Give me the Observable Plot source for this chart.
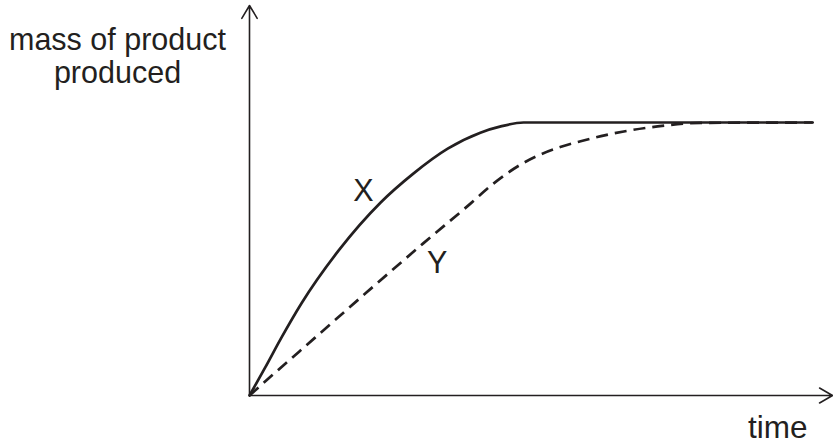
<!DOCTYPE html>
<html>
<head>
<meta charset="utf-8">
<script src="https://cdn.jsdelivr.net/npm/d3@7"></script>
<script src="https://cdn.jsdelivr.net/npm/@observablehq/plot@0.6"></script>
<style>
  html, body { margin: 0; padding: 0; background: #ffffff; }
  #chart svg { display: block; }
</style>
</head>
<body>
<div id="chart"></div>
<script>
// Curve X (solid): time and mass values
const timeX = [0, 0.27, 0.55, 0.89, 1.53, 2.25, 2.81, 3.40, 3.96, 4.31, 4.70, 9.66];
const massX = [0, 0.72, 1.49, 2.36, 3.72, 4.95, 5.69, 6.33, 6.74, 6.90, 7.0, 7.0];

// Curve Y (dashed)
const timeY = [0, 0.33, 1.13, 1.99, 2.98, 3.79, 4.19, 4.65, 4.99, 5.33, 5.68, 6.03, 6.42, 7.00, 7.74, 9.66];
const massY = [0, 0.44, 1.49, 2.62, 3.90, 4.92, 5.44, 5.92, 6.18, 6.37, 6.52, 6.65, 6.77, 6.90, 6.99, 7.0];

// Curve labels
const curveLabels = ["X", "Y"];
const labelTime = [1.955, 3.22];
const labelMass = [5.0, 3.13];

// Axis titles
const yTitle = "mass of product\nproduced";
const xTitle = "time";

const ink = "#231f20";

const lineX = timeX.map((t, i) => ({ t, m: massX[i] }));
const lineY = timeY.map((t, i) => ({ t, m: massY[i] }));
const labels = curveLabels.map((s, i) => ({ s, t: labelTime[i], m: labelMass[i] }));

const chart = Plot.plot({
  width: 833,
  height: 447,
  marginLeft: 249,
  marginRight: 1,
  marginTop: 5,
  marginBottom: 52,
  x: { domain: [0, 10], axis: null },
  y: { domain: [0, 10], axis: null },
  style: {
    fontFamily: "'Liberation Sans', Arial, Helvetica, sans-serif",
    fontSize: "30px",
    background: "#ffffff",
    color: ink
  },
  marks: [
    // axes as arrows
    Plot.arrow([{ x1: 0, y1: 0, x2: 0, y2: 10 }], {
      x1: "x1", y1: "y1", x2: "x2", y2: "y2",
      stroke: ink, strokeWidth: 1.6, headLength: 14, headAngle: 62, inset: 0
    }),
    Plot.arrow([{ x1: 0, y1: 0, x2: 10, y2: 0 }], {
      x1: "x1", y1: "y1", x2: "x2", y2: "y2",
      stroke: ink, strokeWidth: 1.6, headLength: 14, headAngle: 60, inset: 0
    }),
    // dashed curve Y
    Plot.line(lineY, {
      x: "t", y: "m", curve: "monotone-x",
      stroke: ink, strokeWidth: 2.7, strokeDasharray: "12,7", strokeLinecap: "butt"
    }),
    // solid curve X
    Plot.line(lineX, {
      x: "t", y: "m", curve: "monotone-x",
      stroke: ink, strokeWidth: 2.7
    }),
    // curve labels
    Plot.text(labels, {
      x: "t", y: "m", text: "s",
      fill: ink, fontSize: 30.5, textAnchor: "middle", lineAnchor: "bottom"
    }),
    // y axis title
    Plot.text([yTitle], {
      frameAnchor: "top-left", dx: -132, dy: 77,
      fill: ink, fontSize: 30.5, textAnchor: "middle", lineAnchor: "bottom", lineHeight: 1.06
    }),
    // x axis title
    Plot.text([xTitle], {
      frameAnchor: "bottom-right", dx: -25, dy: 42,
      fill: ink, fontSize: 31.5, textAnchor: "end", lineAnchor: "bottom"
    })
  ]
});

document.getElementById("chart").appendChild(chart);
</script>
</body>
</html>
